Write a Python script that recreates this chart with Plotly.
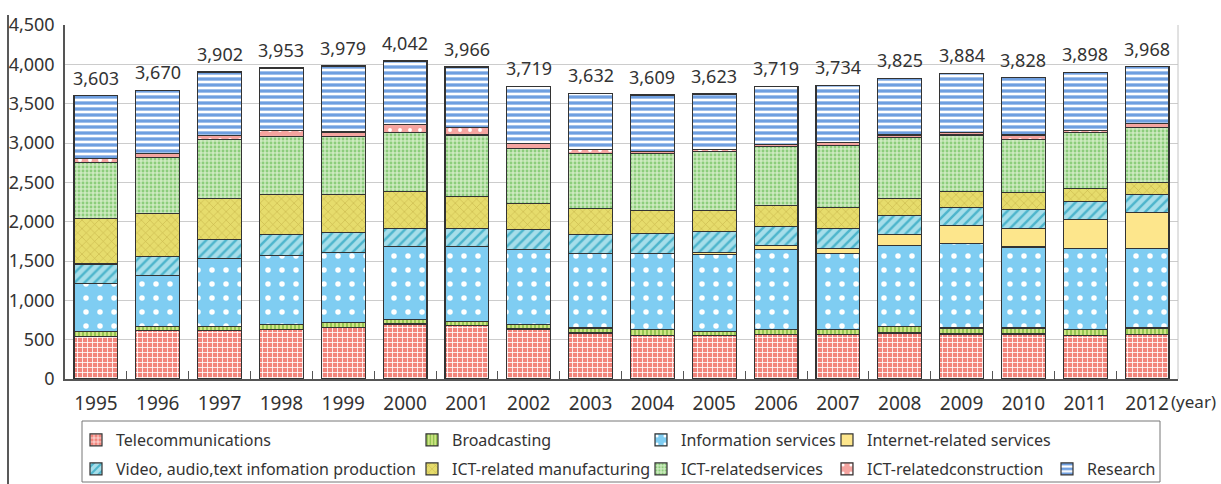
import plotly.graph_objects as go

# data
years = [str(y) for y in range(1995, 2013)]
totals = [3603, 3670, 3902, 3953, 3979, 4042, 3966, 3719, 3632, 3609, 3623, 3719, 3734, 3825, 3884, 3828, 3898, 3968]

telecom = [542, 614, 614, 627, 656, 699, 677, 635, 584, 550, 550, 563, 563, 584, 572, 572, 550, 563]
broadcasting = [63, 55, 55, 63, 64, 55, 55, 55, 64, 77, 55, 64, 64, 85, 76, 76, 77, 85]
info_services = [614, 643, 859, 881, 893, 931, 953, 953, 944, 965, 974, 1016, 965, 1029, 1079, 1029, 1037, 1016]
internet_services = [0, 0, 0, 0, 0, 0, 0, 0, 0, 0, 34, 55, 72, 135, 225, 241, 368, 453]
video_audio = [242, 242, 250, 262, 246, 233, 233, 254, 241, 262, 263, 241, 254, 242, 233, 241, 225, 224]
ict_manufacturing = [575, 546, 517, 508, 482, 466, 402, 338, 330, 288, 266, 267, 267, 224, 199, 212, 169, 157]
ict_services = [720, 720, 745, 741, 741, 749, 783, 699, 707, 720, 750, 749, 779, 770, 719, 677, 707, 703]
ict_construction = [47, 42, 51, 72, 59, 106, 93, 63, 43, 30, 21, 30, 42, 34, 30, 55, 25, 42]
research = [800, 808, 811, 799, 838, 803, 770, 722, 719, 717, 710, 734, 728, 722, 751, 725, 740, 725]

FONT = "Noto Sans"
TXT = "#333333"

# plot area in pixels, used to place things in paper coords
L, R, T, B = 65, 1178, 25, 379
def px(x):
    return (x - L) / (R - L)
def py(y):
    return (B - y) / (B - T)

# name, values, bg, fg, shape, size, solidity, legend text x, legend row y
series = [
    ("Telecommunications", telecom, "#f2857c", "#ffffff", "+", 5, 0.3, 117, 440),
    ("Broadcasting", broadcasting, "#cfe584", "#86bd46", "|", 4, 0.4, 453, 440),
    ("Information services", info_services, "#7fcdf2", "#ffffff", ".", 14, 0.12, 682, 440),
    ("Internet-related services", internet_services, "#fde68c", None, "", 0, 0, 868, 440),
    ("Video, audio,text infomation production", video_audio, "#a6deea", "#4db5cc", "/", 7, 0.35, 117, 469),
    ("ICT-related manufacturing", ict_manufacturing, "#e6dc6c", "#c9b94c", "x", 6, 0.2, 453, 469),
    ("ICT-relatedservices", ict_services, "#cdeabf", "#8ccd7b", ".", 4, 0.4, 682, 469),
    ("ICT-relatedconstruction", ict_construction, "#f5a4a0", "#ffffff", ".", 10, 0.12, 868, 469),
    ("Research", research, "#6f9fe0", "#ffffff", "-", 6, 0.45, 1088, 469),
]

fig = go.Figure()
legends = {}
for i, (name, vals, bg, fg, shp, sz, sol, lx, ly) in enumerate(series):
    lname = "legend%d" % (i + 2)
    pattern = dict(shape=shp)
    if shp:
        pattern.update(bgcolor=bg, fgcolor=fg, size=sz, solidity=sol, fillmode="replace")
    fig.add_trace(go.Bar(
        x=years, y=vals, name=name, legend=lname,
        marker=dict(color=bg, line=dict(color="#333333", width=1.2), pattern=pattern),
    ))
    legends[lname] = dict(
        x=px(lx - 41), y=py(ly), xanchor="left", yanchor="middle",
        bgcolor="rgba(0,0,0,0)", borderwidth=0,
        font=dict(family=FONT, size=16, color=TXT),
    )

# totals above bars (index positions on the category axis)
for i, t in enumerate(totals):
    fig.add_annotation(x=i, y=t, text=f"{t:,}", showarrow=False, yanchor="bottom", yshift=4,
                       font=dict(family=FONT, size=18, color=TXT))

fig.add_annotation(xref="paper", yref="paper", x=px(1169), y=py(401), text="(year)",
                   showarrow=False, xanchor="left", yanchor="middle",
                   font=dict(family=FONT, size=17, color=TXT))

# legend frame, right border, page edge line
fig.add_shape(type="rect", xref="paper", yref="paper", x0=px(82), x1=px(1160), y0=py(482), y1=py(421),
              line=dict(color="#777777", width=1))
fig.add_shape(type="line", xref="paper", yref="paper", x0=1, x1=1, y0=0, y1=1,
              line=dict(color="#c4c4c4", width=1))
fig.add_shape(type="line", xref="paper", yref="paper", x0=px(8), x1=px(8), y0=py(484), y1=py(15),
              line=dict(color="#222222", width=1.5))

fig.update_layout(
    barmode="stack", bargap=0.29,
    width=1221, height=484,
    margin=dict(l=L, r=1221 - R, t=T, b=484 - B, autoexpand=False),
    paper_bgcolor="white", plot_bgcolor="white",
    font=dict(family=FONT, color=TXT),
    showlegend=True,
    **legends,
)
fig.update_xaxes(
    type="category", categoryorder="array", categoryarray=years, range=[-0.5, 17.5],
    showline=True, linecolor="#555555", linewidth=1.5,
    ticks="inside", tickson="boundaries", ticklen=8, tickcolor="#555555",
    tickfont=dict(family=FONT, size=19, color=TXT), ticklabelstandoff=6, tickangle=0,
    showgrid=False, automargin=False,
)
fig.update_yaxes(
    range=[0, 4500], dtick=500, tickformat=",", showline=True, linecolor="#555555", linewidth=1.5,
    gridcolor="#cccccc", gridwidth=1, zeroline=False, automargin=False,
    tickfont=dict(family=FONT, size=18, color=TXT), ticklabelstandoff=5,
)

# drop the page's default body margin so the figure sits at the window's corner
fig.write_html("out.html", config={"displayModeBar": False},
               post_script="document.body.style.margin='0';document.body.style.overflow='hidden';")
